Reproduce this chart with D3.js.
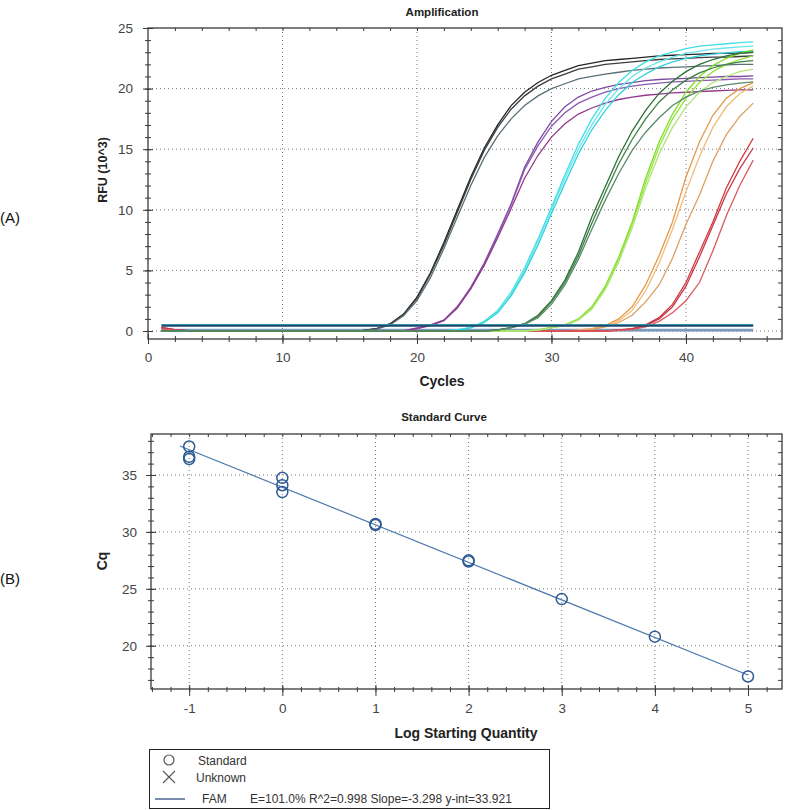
<!DOCTYPE html>
<html>
<head>
<meta charset="utf-8">
<script src="https://cdn.jsdelivr.net/npm/d3@7"></script>
<style>
  body { margin: 0; background: #fff; }
</style>
</head>
<body>
<script>
// ---- Amplification data (RFU x10^3 per cycle, cycles 1..45) ----
const cycles = [1,2,3,4,5,6,7,8,9,10,11,12,13,14,15,16,17,18,19,20,21,22,23,24,25,26,27,28,29,30,31,32,33,34,35,36,37,38,39,40,41,42,43,44,45];

const blackCurves = [
  [0,0,0,0,0, 0,0,0,0,0, 0,0,0,0,0, 0.05,0.2,0.6,1.4,2.8,4.8,7.3,10.0,12.7,15.1,17.0,18.6,19.7,20.5,21.1,21.5,21.9,22.1,22.3,22.4,22.5,22.6,22.7,22.75,22.8,22.85,22.9,22.9,22.95,23.0],
  [0,0,0,0,0, 0,0,0,0,0, 0,0,0,0,0, 0.05,0.2,0.55,1.35,2.7,4.7,7.1,9.8,12.5,14.9,16.8,18.3,19.4,20.2,20.8,21.2,21.6,21.8,22.0,22.1,22.2,22.3,22.4,22.45,22.5,22.55,22.6,22.6,22.65,22.7],
  [0,0,0,0,0, 0,0,0,0,0, 0,0,0,0,0, 0.05,0.15,0.5,1.25,2.5,4.4,6.8,9.4,12.0,14.3,16.1,17.5,18.6,19.4,20.0,20.4,20.8,21.0,21.2,21.35,21.5,21.6,21.7,21.75,21.8,21.85,21.9,21.95,22.0,22.0]
];
const purpleCurves = [
  [0.3,0.12,0.03, 0,0,0,0,0, 0,0,0,0,0, 0,0,0,0,0, 0, 0.25,0.5,0.9,2.0,3.6,5.6,8.0,10.5,13.5,15.6,17.3,18.5,19.3,19.8,20.1,20.35,20.5,20.65,20.75,20.8,20.85,20.9,20.95,21.0,21.0,21.05],
  [0.2,0.08,0.02, 0,0,0,0,0, 0,0,0,0,0, 0,0,0,0,0, 0, 0.22,0.48,0.9,2.0,3.5,5.5,7.9,10.4,13.3,15.3,16.9,18.0,18.8,19.3,19.7,20.0,20.2,20.35,20.45,20.55,20.6,20.65,20.7,20.75,20.8,20.8],
  [0.25,0.1,0.02, 0,0,0,0,0, 0,0,0,0,0, 0,0,0,0,0, 0, 0.2,0.45,0.85,1.9,3.5,5.4,7.7,10.1,12.6,14.5,16.0,17.1,17.9,18.4,18.8,19.1,19.3,19.45,19.55,19.65,19.7,19.75,19.8,19.85,19.9,19.9]
];
const cyanCurves = [
  [0,0,0,0,0, 0,0,0,0,0, 0,0,0,0,0, 0,0,0,0,0, 0,0, 0.1,0.3,0.8,1.7,3.2,5.2,7.6,10.2,12.9,15.4,17.5,19.2,20.5,21.5,22.2,22.7,23.0,23.3,23.5,23.6,23.7,23.8,23.85],
  [0,0,0,0,0, 0,0,0,0,0, 0,0,0,0,0, 0,0,0,0,0, 0,0, 0.1,0.28,0.75,1.6,3.0,5.0,7.4,10.0,12.6,15.0,17.0,18.7,20.0,21.0,21.7,22.2,22.6,22.9,23.1,23.25,23.35,23.45,23.5],
  [0,0,0,0,0, 0,0,0,0,0, 0,0,0,0,0, 0,0,0,0,0, 0,0, 0.08,0.25,0.7,1.5,2.9,4.8,7.1,9.7,12.2,14.6,16.6,18.2,19.5,20.5,21.2,21.8,22.2,22.5,22.7,22.85,22.95,23.05,23.1]
];
const darkGreenCurves = [
  [0,0,0,0,0, 0,0,0,0,0, 0,0,0,0,0, 0,0,0,0,0, 0,0,0,0,0, 0.1,0.3,0.6,1.3,2.5,4.2,6.5,9.4,11.9,14.4,16.5,18.2,19.6,20.6,21.4,22.0,22.4,22.7,22.9,23.0],
  [0,0,0,0,0, 0,0,0,0,0, 0,0,0,0,0, 0,0,0,0,0, 0,0,0,0,0, 0.1,0.28,0.6,1.2,2.4,4.0,6.2,8.9,11.4,13.8,15.8,17.5,18.9,19.9,20.7,21.3,21.7,22.0,22.2,22.3],
  [0,0,0,0,0, 0,0,0,0,0, 0,0,0,0,0, 0,0,0,0,0, 0,0,0,0,0, 0.08,0.25,0.55,1.1,2.2,3.8,5.9,8.4,10.8,13.0,14.9,16.4,17.6,18.6,19.3,19.8,20.1,20.3,20.45,20.55]
];
const lightGreenCurves = [
  [0,0,0,0,0, 0,0,0,0,0, 0,0,0,0,0, 0,0,0,0,0, 0,0,0,0,0, 0,0,0, 0.1,0.3,0.5,1.0,2.0,3.7,6.1,9.0,12.6,15.6,17.9,19.7,21.0,21.9,22.5,22.9,23.2],
  [0,0,0,0,0, 0,0,0,0,0, 0,0,0,0,0, 0,0,0,0,0, 0,0,0,0,0, 0,0,0, 0.1,0.28,0.48,0.95,1.9,3.6,5.9,8.8,12.2,15.2,17.5,19.2,20.5,21.4,22.0,22.4,22.7],
  [0,0,0,0,0, 0,0,0,0,0, 0,0,0,0,0, 0,0,0,0,0, 0,0,0,0,0, 0,0,0, 0.08,0.25,0.45,0.9,1.8,3.4,5.7,8.5,11.8,14.6,16.8,18.5,19.7,20.5,21.0,21.4,21.6]
];
const orangeCurves = [
  [0,0,0,0,0, 0,0,0,0,0, 0,0,0,0,0, 0,0,0,0,0, 0,0,0,0,0, 0,0,0,0,0, 0, 0.1,0.2,0.45,1.0,2.0,3.8,6.2,9.0,12.7,15.6,17.8,19.2,20.0,20.5],
  [0,0,0,0,0, 0,0,0,0,0, 0,0,0,0,0, 0,0,0,0,0, 0,0,0,0,0, 0,0,0,0,0, 0, 0.08,0.15,0.4,0.85,1.7,3.3,5.6,8.4,11.5,14.4,16.8,18.5,19.6,20.2],
  [0,0,0,0,0, 0,0,0,0,0, 0,0,0,0,0, 0,0,0,0,0, 0,0,0,0,0, 0,0,0,0,0, 0, 0.05,0.12,0.35,0.7,1.3,2.4,3.8,6.0,8.8,11.2,14.0,16.2,17.7,18.8]
];
const redCurves = [
  [0.3,0.1, 0,0,0,0,0, 0,0,0,0,0, 0,0,0,0,0, 0,0,0,0,0, 0,0,0,0,0, 0,0,0,0,0, 0,0, 0.1,0.2,0.5,1.1,2.2,4.0,6.5,9.0,11.8,14.0,15.9],
  [0.25,0.08, 0,0,0,0,0, 0,0,0,0,0, 0,0,0,0,0, 0,0,0,0,0, 0,0,0,0,0, 0,0,0,0,0, 0,0, 0.08,0.18,0.45,1.0,2.0,3.7,6.1,8.7,11.3,13.4,15.1],
  [0.2,0.06, 0,0,0,0,0, 0,0,0,0,0, 0,0,0,0,0, 0,0,0,0,0, 0,0,0,0,0, 0,0,0,0,0, 0,0, 0.05,0.12,0.35,0.8,1.5,2.5,4.0,6.6,9.5,12.0,14.1]
];
// flat no-template traces and the threshold line
const ntcLevels = [0.05, 0.1];
const thresholdLevel = 0.44;

const groupColors = {
  black: ["#262626", "#3c3c3c", "#5a6e78"],
  purple: ["#7d4aa0", "#8c5ab0", "#93388a"],
  cyan: ["#3fe0e6", "#66e6ea", "#2fd2dc"],
  orange: ["#e49a48", "#f0bc78", "#dca060"],
  red: ["#d43a3a", "#c8364c", "#dc5a5a"],
  darkGreen: ["#2d7034", "#3d8044", "#5b8a6a"],
  lightGreen: ["#7ee02a", "#96e43c", "#b0e47a"]
};

// ---- Standard curve data ----
const stdLogQty = [-1, -1, -1, 0, 0, 0, 1, 1, 2, 2, 3, 4, 5];
const stdCq = [37.5, 36.6, 36.4, 34.75, 34.1, 33.5, 30.7, 30.6, 27.5, 27.4, 24.1, 20.8, 17.3];
const fitSlope = -3.298, fitIntercept = 33.921;
const fitRange = [-1.1, 5];
const legendItems = ["Standard", "Unknown", "FAM"];
const fitText = "E=101.0% R^2=0.998 Slope=-3.298 y-int=33.921";

const ink = "#3a3a3a";
const font = '"Liberation Sans", Arial, sans-serif';
const plain = d => String(d);   // keeps an ascii hyphen for negatives

const svg = d3.select("body").append("svg")
  .attr("width", 789).attr("height", 810)
  .style("font-family", font);

function frame(x, y, o) {
  const [l, r] = x.range(), [b, t] = y.range();
  const g = svg.append("g");

  // dotted grid
  g.append("g").selectAll("line").data(o.gridX).join("line")
    .attr("x1", d => x(d)).attr("x2", d => x(d)).attr("y1", t).attr("y2", b)
    .attr("stroke", "#777").attr("stroke-dasharray", "1,3");
  g.append("g").selectAll("line").data(o.gridY).join("line")
    .attr("y1", d => y(d)).attr("y2", d => y(d)).attr("x1", l).attr("x2", r)
    .attr("stroke", "#777").attr("stroke-dasharray", "1,3");

  // inner ticks on top and right borders
  const top = g.append("g").attr("transform", `translate(0,${t})`)
    .call(d3.axisBottom(x).tickValues(o.xMinor).tickSize(3).tickFormat(""));
  const right = g.append("g").attr("transform", `translate(${r},0)`)
    .call(d3.axisLeft(y).tickValues(o.yMinor).tickSize(4).tickFormat(""));

  // minor ticks crossing the left and bottom axes
  const bMinor = g.append("g").attr("transform", `translate(0,${b})`)
    .call(d3.axisBottom(x).tickValues(o.xMinor).tickSize(o.xMinorTick[1]).tickFormat(""));
  bMinor.selectAll(".tick line").attr("y1", -o.xMinorTick[0]);
  const lMinor = g.append("g").attr("transform", `translate(${l},0)`)
    .call(d3.axisLeft(y).tickValues(o.yMinor).tickSize(3).tickFormat(""));
  lMinor.selectAll(".tick line").attr("x1", 3);

  // major ticks with labels
  const bottom = g.append("g").attr("transform", `translate(0,${b})`)
    .call(d3.axisBottom(x).tickValues(o.xMajor).tickFormat(plain)
      .tickSize(o.xMajorTick[1]).tickPadding(o.xPad));
  bottom.selectAll(".tick line").attr("y1", -o.xMajorTick[0]);
  const left = g.append("g").attr("transform", `translate(${l},0)`)
    .call(d3.axisLeft(y).tickValues(o.yMajor).tickFormat(plain)
      .tickSize(5).tickPadding(o.yPad));
  left.selectAll(".tick line").attr("x1", 5);

  [top, right, bMinor, lMinor, bottom, left].forEach(a => {
    a.select(".domain").remove();
    a.attr("font-family", font).attr("font-size", 13.5);
    a.selectAll(".tick line").attr("stroke", ink).attr("stroke-width", 1);
    a.selectAll(".tick text").attr("fill", "#444");
  });

  g.append("rect").attr("x", l).attr("y", t).attr("width", r - l).attr("height", b - t)
    .attr("fill", "none").attr("stroke", "#3a3a3a").attr("stroke-width", 1.3);
  return g;
}

// ================= Amplification =================
const xA = d3.scaleLinear().domain([0, 47.14]).range([148, 782]);
const yA = d3.scaleLinear().domain([-0.66, 25]).range([339, 28]);

frame(xA, yA, {
  gridX: [10, 20, 30, 40], gridY: [0, 5, 10, 15, 20],
  xMajor: [0, 10, 20, 30, 40], xMinor: d3.range(2, 47, 2),
  yMajor: [0, 5, 10, 15, 20, 25], yMinor: d3.range(1, 25, 1),
  xMajorTick: [5, 5], xMinorTick: [3, 3], xPad: 8, yPad: 10
});

svg.append("clipPath").attr("id", "clipA").append("rect")
  .attr("x", 148).attr("y", 28).attr("width", 634).attr("height", 311);

const ampLine = d3.line().x((d, i) => xA(cycles[i])).y(d => yA(d));
const plotA = svg.append("g").attr("clip-path", "url(#clipA)");

// flat traces underneath
plotA.selectAll(".ntc").data(ntcLevels).join("path")
  .attr("d", lv => ampLine(cycles.map(() => lv)))
  .attr("fill", "none").attr("stroke", (d, i) => i ? "#7f9fc2" : "#6a8cb3").attr("stroke-width", 2);

const groups = [
  [blackCurves, groupColors.black],
  [purpleCurves, groupColors.purple],
  [cyanCurves, groupColors.cyan],
  [orangeCurves, groupColors.orange],
  [redCurves, groupColors.red],
  [lightGreenCurves, groupColors.lightGreen],
  [darkGreenCurves, groupColors.darkGreen]
];
groups.forEach(([curves, colors]) => {
  plotA.append("g").selectAll("path").data(curves).join("path")
    .attr("d", ampLine)
    .attr("fill", "none")
    .attr("stroke", (d, i) => colors[i])
    .attr("stroke-width", 1.3);
});

// threshold line on top
plotA.append("path")
  .attr("d", ampLine(cycles.map(() => thresholdLevel + 0.08)))
  .attr("fill", "none").attr("stroke", "#3aa6b4").attr("stroke-width", 1.2);
plotA.append("path")
  .attr("d", ampLine(cycles.map(() => thresholdLevel)))
  .attr("fill", "none").attr("stroke", "#1d4a6e").attr("stroke-width", 2);

svg.append("text").attr("x", 442).attr("y", 16).attr("text-anchor", "middle")
  .attr("font-size", 11.5).attr("font-weight", "bold").attr("fill", "#222").text("Amplification");
svg.append("text").attr("transform", "translate(107,170) rotate(-90)").attr("text-anchor", "middle")
  .attr("font-size", 12.5).attr("font-weight", "bold").attr("fill", "#222").text("RFU (10^3)");
svg.append("text").attr("x", 442).attr("y", 386).attr("text-anchor", "middle")
  .attr("font-size", 14).attr("font-weight", "bold").attr("fill", "#222").text("Cycles");
svg.append("text").attr("x", 0).attr("y", 223)
  .attr("font-size", 15).attr("fill", "#111").text("(A)");

// ================= Standard Curve =================
const xB = d3.scaleLinear().domain([-1.41, 5.365]).range([151, 782]);
const yB = d3.scaleLinear().domain([16.2, 38.6]).range([689, 434]);

frame(xB, yB, {
  gridX: [-1, 0, 1, 2, 3, 4, 5], gridY: [20, 25, 30, 35],
  xMajor: [-1, 0, 1, 2, 3, 4, 5], xMinor: d3.range(-1.4, 5.3, 0.2),
  yMajor: [20, 25, 30, 35], yMinor: d3.range(17, 39, 1),
  xMajorTick: [4, 7], xMinorTick: [2, 3], xPad: 7, yPad: 9
});

svg.append("line")
  .attr("x1", xB(fitRange[0])).attr("y1", yB(fitIntercept + fitSlope * fitRange[0]))
  .attr("x2", xB(fitRange[1])).attr("y2", yB(fitIntercept + fitSlope * fitRange[1]))
  .attr("stroke", "#4a78ad").attr("stroke-width", 1.2);

svg.append("g").selectAll("circle").data(stdLogQty).join("circle")
  .attr("cx", d => xB(d)).attr("cy", (d, i) => yB(stdCq[i])).attr("r", 5.5)
  .attr("fill", "none").attr("stroke", "#2c5a93").attr("stroke-width", 1.5);

svg.append("text").attr("x", 444).attr("y", 421).attr("text-anchor", "middle")
  .attr("font-size", 11.5).attr("font-weight", "bold").attr("fill", "#222").text("Standard Curve");
svg.append("text").attr("transform", "translate(107,561) rotate(-90)").attr("text-anchor", "middle")
  .attr("font-size", 14).attr("font-weight", "bold").attr("fill", "#222").text("Cq");
svg.append("text").attr("x", 466).attr("y", 738).attr("text-anchor", "middle")
  .attr("font-size", 14).attr("font-weight", "bold").attr("fill", "#222").text("Log Starting Quantity");
svg.append("text").attr("x", 0).attr("y", 584)
  .attr("font-size", 15).attr("fill", "#111").text("(B)");

// ---- legend ----
const lg = svg.append("g");
lg.append("rect").attr("x", 149.5).attr("y", 749.5).attr("width", 400).attr("height", 59)
  .attr("fill", "#fff").attr("stroke", "#222").attr("stroke-width", 1);
lg.append("circle").attr("cx", 169).attr("cy", 760).attr("r", 5)
  .attr("fill", "none").attr("stroke", "#555").attr("stroke-width", 1.2);
lg.append("path").attr("d", "M163,771L175,783M175,771L163,783")
  .attr("stroke", "#555").attr("stroke-width", 1.1);
lg.append("line").attr("x1", 155).attr("x2", 185).attr("y1", 799).attr("y2", 799)
  .attr("stroke", "#1f3f7a").attr("stroke-width", 1.2);
lg.selectAll(".lt").data(legendItems).join("text")
  .attr("x", (d, i) => [198, 196, 202][i]).attr("y", (d, i) => [764.5, 782, 803][i])
  .attr("font-size", 12).attr("fill", "#333").text(d => d);
lg.append("text").attr("x", 250).attr("y", 803).attr("font-size", 12).attr("fill", "#333").text(fitText);
</script>
</body>
</html>
